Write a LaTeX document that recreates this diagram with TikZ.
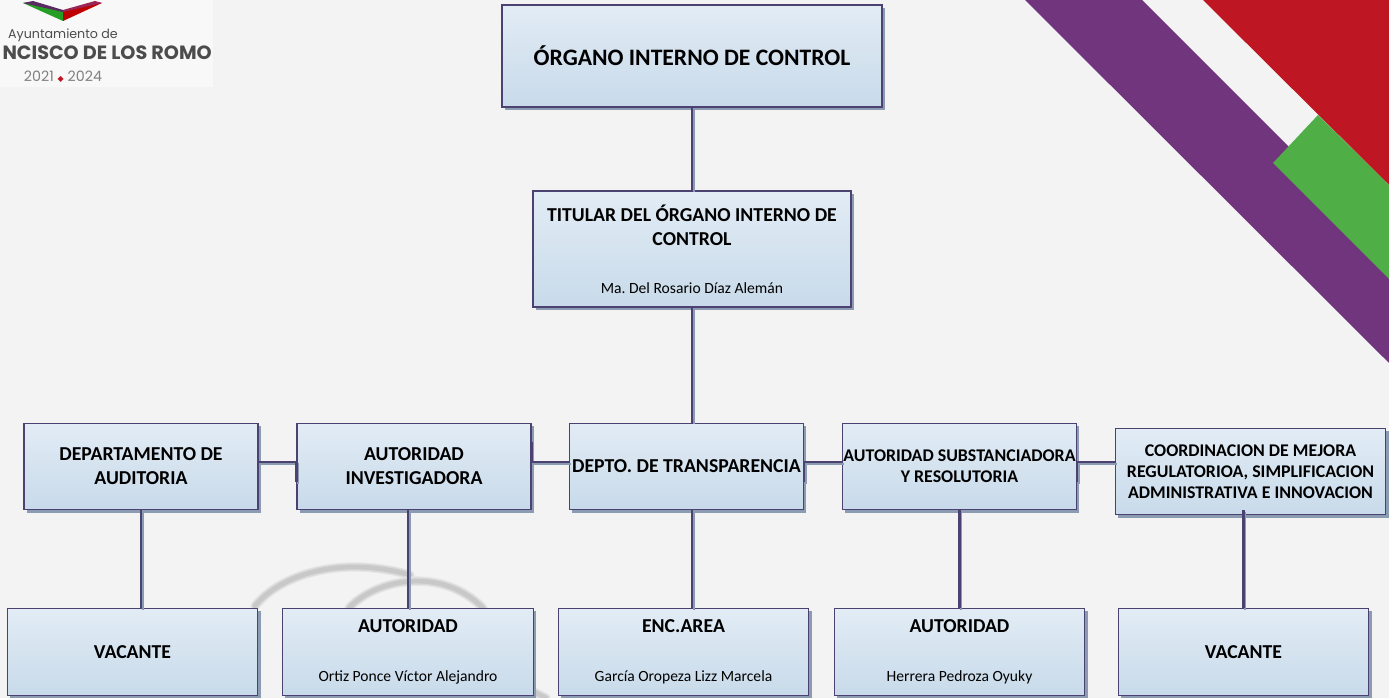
\documentclass[tikz,border=0pt]{standalone}
\usepackage{fontspec}
\setmainfont{Carlito}
\newfontfamily\logofont{Poppins}
\newfontfamily\symfont{DejaVu Sans}
\usetikzlibrary{positioning,calc,shadows}
\definecolor{pagegray}{HTML}{F3F3F3}
\definecolor{logopatch}{HTML}{F8F8F8}
\definecolor{boxline}{HTML}{4B4272}
\definecolor{boxtop}{HTML}{E2ECF5}
\definecolor{boxbottom}{HTML}{C8DAEA}
\definecolor{boxshade}{HTML}{8A9BB2}
\definecolor{bandpurple}{HTML}{70357C}
\definecolor{bandred}{HTML}{BE1622}
\definecolor{bandgreen}{HTML}{4FAE46}
\definecolor{markgray}{HTML}{C8C8C8}
\newcommand{\headfont}{\fontsize{14.8}{18}\selectfont\bfseries}
\newcommand{\namefont}{\fontsize{11.7}{14}\mdseries\selectfont}
\tikzset{
  orgbox/.style={draw=boxline,line width=0.8pt,top color=boxtop,bottom color=boxbottom,
    align=center,inner sep=0pt,text=black,font=\headfont,
    drop shadow={shadow xshift=2pt,shadow yshift=-2pt,fill=boxshade,opacity=1}},
  link/.style={draw=boxline,line width=1.6pt,
    preaction={draw=boxshade,line width=1.6pt,transform canvas={xshift=1.4pt,yshift=-1.4pt}}},
  logotext/.style={inner sep=0pt,text=black!70},
  markarc/.style={line cap=round,draw=markgray!45,line width=7pt,
    postaction={draw=markgray!70,line width=5.5pt},
    postaction={draw=markgray,line width=3.5pt}}
}

\begin{document}
\frenchspacing
\begin{tikzpicture}[x=0.75pt,y=-0.75pt]

\useasboundingbox (0,0) rectangle (1389,698);
\fill[pagegray] (0,0) rectangle (1389,698);

% corner bands
\fill[bandpurple] (1025,0) -- (1142,0) -- (1389,247) -- (1389,363) -- cycle;
\fill[bandred] (1203,0) -- (1389,0) -- (1389,185) -- cycle;
\fill[bandgreen] (1318,115) -- (1389,185) -- (1389,279) -- (1273,163) -- cycle;

% watermark
\draw[markarc] (255,606) .. controls (280,575) and (340,555) .. (410,575);
\draw[markarc] (349,608) .. controls (375,580) and (440,565) .. (483,608);
\draw[markarc] (534,692) -- (546,698);

% logo
\fill[logopatch] (0,0) rectangle (213,87);
\fill[green!55!black!85] (23,3) -- (63,21) -- (63,11) -- (33,2) -- cycle;
\fill[red!75!black] (102,3) -- (63,21) -- (63,11) -- (95,2) -- cycle;
\fill[bandpurple!80!black] (23,3) -- (33,1) -- (63,10) -- (63,12) -- cycle;
\fill[bandpurple!70!red] (102,3) -- (95,1) -- (63,10) -- (63,12) -- cycle;
\node [logotext,anchor=center] (ayto) at (63,35) {\logofont\fontsize{9.5}{11}\selectfont Ayuntamiento de};
\node [logotext,anchor=east] (town) at (212,53) {\logofont\fontsize{14.4}{16}\selectfont\bfseries NCISCO DE LOS ROMO};
\node [logotext,anchor=center,text=black!50] (years) at (63,77) {\logofont\fontsize{10.7}{12}\selectfont 2021 {\symfont\fontsize{6}{10}\selectfont\textcolor{bandred}{◆}} 2024};

% boxes
\node [orgbox,minimum width=285pt,minimum height=76.5pt,font=\fontsize{17.7}{21}\selectfont\bfseries] (organo) at (692,56) {ÓRGANO INTERNO DE CONTROL};
\node [orgbox,minimum width=238.5pt,minimum height=87pt] (titular) at (692,249) {TITULAR DEL ÓRGANO INTERNO DE\\CONTROL\\[18pt]{\namefont Ma. Del Rosario Díaz Alemán}};

\node [orgbox,minimum width=175.5pt,minimum height=65pt] (auditoria) at (141,466.5) {DEPARTAMENTO DE\\AUDITORIA};
\node [orgbox,minimum width=175.5pt,minimum height=65pt] (investiga) at (414,466.5) {AUTORIDAD\\INVESTIGADORA};
\node [orgbox,minimum width=175.5pt,minimum height=65pt] (transpa) at (686.5,466.5) {DEPTO. DE TRANSPARENCIA};
\node [orgbox,minimum width=175.5pt,minimum height=65pt,font=\fontsize{13.4}{15.8}\selectfont\bfseries] (substan) at (959.5,466.5) {AUTORIDAD SUBSTANCIADORA\\Y RESOLUTORIA};
\node [orgbox,minimum width=203pt,minimum height=65pt,font=\fontsize{13.4}{15.8}\selectfont\bfseries] (mejora) at (1250.5,471.5) {COORDINACION DE MEJORA\\REGULATORIOA, SIMPLIFICACION\\ADMINISTRATIVA E INNOVACION};

\node [orgbox,minimum width=188pt,minimum height=65.5pt] (vacante) at (132.5,652) {VACANTE};
\node [orgbox,minimum width=188pt,minimum height=65.5pt] (autinv) at (408,652) {AUTORIDAD\\[19pt]{\namefont Ortiz Ponce Víctor Alejandro}};
\node [orgbox,minimum width=188pt,minimum height=65.5pt] (encarea) at (683.5,652) {ENC.AREA\\[19pt]{\namefont García Oropeza Lizz Marcela}};
\node [orgbox,minimum width=188pt,minimum height=65.5pt] (autsub) at (959.5,652) {AUTORIDAD\\[19pt]{\namefont Herrera Pedroza Oyuky}};
\node [orgbox,minimum width=188pt,minimum height=65.5pt] (vacdos) at (1243.5,652) {VACANTE};

% vertical links
\draw[link] (organo.south) to (titular.north);
\draw[link] (titular.south) to (titular.south |- transpa.north);
\draw[link] (auditoria.south) to (auditoria.south |- vacante.north);
\draw[link] (autinv.north |- investiga.south) to (autinv.north);
\draw[link] (titular.south |- transpa.south) to (titular.south |- encarea.north);
\draw[link] (autsub.north |- substan.south) to (autsub.north);
\draw[link] ([yshift=3.75pt]vacdos.north |- mejora.south) to (vacdos.north);

% horizontal links
\draw[link] ([yshift=3.4pt]auditoria.east) -- ([yshift=3.4pt]investiga.west) -- ++(0,20);
\draw[link] ([yshift=18.4pt]investiga.east) -- ([yshift=3.4pt]investiga.east) -- ([yshift=3.4pt]transpa.west);
\draw[link] ([yshift=-11.6pt]transpa.east) -- ([yshift=3.4pt]transpa.east) -- ([yshift=3.4pt]substan.west);
\draw[link] ([yshift=-11.6pt]substan.east) -- ([yshift=3.4pt]substan.east) -- ([yshift=3.4pt]substan.east -| mejora.west);

\end{tikzpicture}
\end{document}
